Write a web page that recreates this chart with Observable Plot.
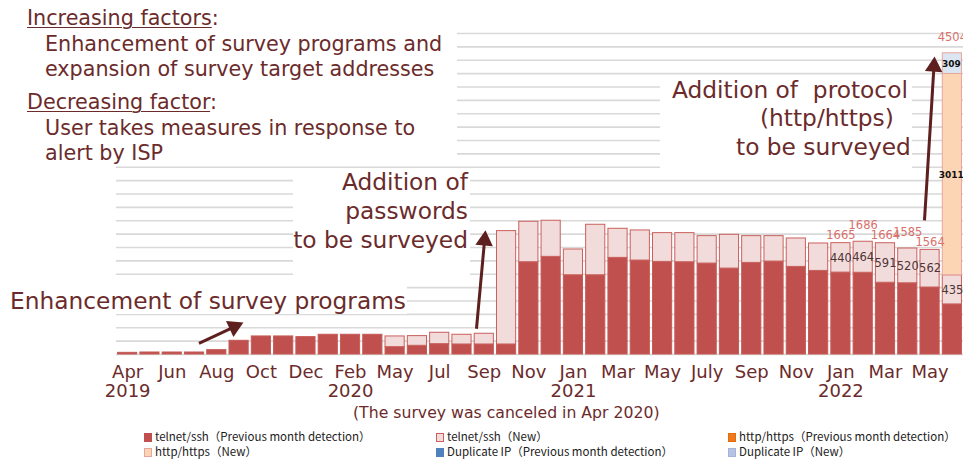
<!DOCTYPE html>
<html><head><meta charset="utf-8">
<script src="https://cdn.jsdelivr.net/npm/d3@7"></script>
<script src="https://cdn.jsdelivr.net/npm/@observablehq/plot@0.6"></script>
<style>
body{margin:0;background:#fff;}
#wrap{position:relative;width:963px;height:459px;overflow:hidden;font-family:"DejaVu Sans",sans-serif;color:#6b2b2b;}
#wrap svg{position:absolute;left:0;top:0;}
.ann{position:absolute;white-space:nowrap;line-height:1;}
.box{position:absolute;background:#fff;}
.u{text-decoration:underline;text-underline-offset:2px;text-decoration-thickness:1px;}
.leg{position:absolute;white-space:nowrap;font-family:"Noto Sans CJK JP",sans-serif;font-size:11.5px;color:#1a1a1a;line-height:1;}
.sw{display:inline-block;width:6px;height:7px;margin-right:3px;vertical-align:-1px;border:1px solid transparent;}
</style></head><body><div id="wrap"></div>
<script>
// ---------------- data ----------------
const categories = ["2019-04","2019-05","2019-06","2019-07","2019-08","2019-09","2019-10","2019-11","2019-12","2020-01","2020-02","2020-03",
  "2020-05","2020-06","2020-07","2020-08","2020-09","2020-10","2020-11","2020-12",
  "2021-01","2021-02","2021-03","2021-04","2021-05","2021-06","2021-07","2021-08","2021-09","2021-10","2021-11","2021-12",
  "2022-01","2022-02","2022-03","2022-04","2022-05","2022-06"];
const telnetPrev = [25,30,30,30,65,205,270,270,260,295,295,295,
  110,130,155,150,150,150,1380,1460,
  1185,1185,1445,1405,1385,1380,1360,1285,1370,1390,1310,1250,
  1225,1222,1073,1065,1002,749];
const telnetNew = [0,0,0,0,0,0,0,0,0,0,0,0,
  160,145,170,145,160,1695,605,540,
  385,755,435,450,430,435,410,505,400,380,425,410,
  440,464,591,520,562,435];
const httpPrev = new Array(38).fill(0);
const httpNew = [0,0,0,0,0,0,0,0,0,0,0,0, 0,0,0,0,0,0,0,0, 0,0,0,0,0,0,0,0,0,0,0,0, 0,0,0,0,0,3011];
const dupPrev = new Array(38).fill(0);
const dupNew = [0,0,0,0,0,0,0,0,0,0,0,0, 0,0,0,0,0,0,0,0, 0,0,0,0,0,0,0,0,0,0,0,0, 0,0,0,0,0,309];
const totalLabels = ["","","","","","","","","","","","", "","","","","","","","", "","","","","","","","","","","","", "1665","1686","1664","1585","1564","4504"];
const monthTicks = ["Apr","","Jun","","Aug","","Oct","","Dec","","Feb","","May","","Jul","","Sep","","Nov","","Jan","","Mar","","May","","July","","Sep","","Nov","","Jan","","Mar","","May",""];
const yearTicks = ["2019","","","","","","","","","","2020","","","","","","","","","","2021","","","","","","","","","","","","2022","","","","",""];
const gridValues = [0,200,400,600,800,1000,1200,1400,1600,1800,2000,2200,2400,2600,2800,3000,3200,3400,3600,3800,4000,4200,4400,4600,4800];
const seriesNames = ["telnet/ssh（Previous month detection）","telnet/ssh（New）","http/https（Previous month detection）","http/https（New）","Duplicate IP（Previous month detection）","Duplicate IP（New）"];
const seriesValues = [telnetPrev, telnetNew, httpPrev, httpNew, dupPrev, dupNew];
const seriesFill = ["#c0504d","#f2dcdb","#f07c22","#fcd5b5","#4f81bd","#dce6f2"];
const seriesStroke = ["#c55a57","#c9605d","#e46c0a","#e8a59c","#4f81bd","#e8a59c"];
const legendFill = ["#c0504d","#f2dcdb","#ef7a1e","#fcd5b5","#4f81bd","#b7c3e2"];
const legendStroke = ["#c0504d","#c9605d","#e46c0a","#e8a59c","#4f81bd","#a3b3da"];
// annotation arrows (data space: x = bar index, y = count)
const arrows = [
  {x1: 3.2, y1: 165, x2: 5.15, y2: 470},
  {x1: 15.65, y1: 385, x2: 16.05, y2: 1840},
  {x1: 35.75, y1: 2005, x2: 36.2, y2: 4440}
];

// ---------------- build ----------------
const ink = "#6b2b2b";
const arrowInk = "#5e1f1f";
const W = 963, H = 425, mL = 116, mR = 0, mT = 33, mB = 71;
const xs = d3.scaleLinear([-0.5, 37.5], [mL, W - mR]);
const ys = d3.scaleLinear([0, 4800], [H - mB, mT]);

const segs = [];
categories.forEach((c, i) => {
  let cum = 0;
  seriesValues.forEach((vals, s) => {
    const v = vals[i];
    if (v > 0) { segs.push({i, s, y1: cum, y2: cum + v, v}); cum += v; }
  });
});
const totals = categories.map((c, i) => ({i, total: seriesValues.reduce((a, vals) => a + vals[i], 0), label: totalLabels[i]})).filter(d => d.label);
const innerLabels = segs.filter(d => d.i >= 32 && d.s === 1).map(d => ({i: d.i, y: (d.y1 + d.y2) / 2, t: String(d.v)}));
const smallLabels = segs.filter(d => d.s === 3 || d.s === 5).map(d => ({i: d.i, y: (d.y1 + d.y2) / 2, t: String(d.v)}));
const ticks = categories.map((c, i) => ({i, m: monthTicks[i], yr: yearTicks[i]}));

const shafts = [], heads = [];
arrows.forEach(a => {
  const p0 = [xs(a.x1), ys(a.y1)], p1 = [xs(a.x2), ys(a.y2)];
  const dx = p1[0] - p0[0], dy = p1[1] - p0[1], L = Math.hypot(dx, dy);
  const u = [dx / L, dy / L];
  const back = 9;
  const c = [p1[0] - u[0] * back, p1[1] - u[1] * back];
  const ang = Math.atan2(dx, -dy) * 180 / Math.PI;
  shafts.push({x1: a.x1, y1: a.y1, x2: xs.invert(c[0]), y2: ys.invert(c[1])});
  heads.push({x: xs.invert(c[0]), y: ys.invert(c[1]), a: ang});
});

const chart = Plot.plot({
  width: W, height: H, marginLeft: mL, marginRight: mR, marginTop: mT, marginBottom: mB,
  x: {domain: [-0.5, 37.5], axis: null},
  y: {domain: [0, 4800], axis: null},
  color: {type: "identity"},
  style: {fontFamily: "DejaVu Sans, sans-serif", background: "white", overflow: "hidden"},
  marks: [
    Plot.ruleY(gridValues, {stroke: "#d9d9d9", strokeWidth: 1.6}),
    Plot.rect(segs, {x1: d => d.i - 0.43, x2: d => d.i + 0.43, y1: "y1", y2: "y2",
      fill: d => seriesFill[d.s], stroke: d => seriesStroke[d.s], strokeWidth: 1}),
    Plot.text(totals.filter(d => d.i % 2 === 0), {x: "i", y: "total", text: "label", dy: -8, fill: "#d8706b", fontSize: 11.5}),
    Plot.text(totals.filter(d => d.i % 2 === 1), {x: "i", y: "total", text: "label", dy: -16, fill: "#d8706b", fontSize: 11.5}),
    Plot.text(innerLabels, {x: "i", y: "y", text: "t", fill: "#4e3535", fontSize: 11.5}),
    Plot.text(smallLabels, {x: "i", y: "y", text: "t", fill: "#111", fontSize: 9, fontWeight: "bold", dx: -1}),
    Plot.text(ticks.filter(d => d.m), {x: "i", frameAnchor: "bottom", lineAnchor: "top", dy: 11, text: "m", fill: ink, fontSize: 18}),
    Plot.text(ticks.filter(d => d.yr), {x: "i", frameAnchor: "bottom", lineAnchor: "top", dy: 30, text: "yr", fill: ink, fontSize: 18}),
    Plot.link(shafts, {x1: "x1", y1: "y1", x2: "x2", y2: "y2", stroke: arrowInk, strokeWidth: 3}),
    Plot.dot(heads, {x: "x", y: "y", symbol: "triangle", r: 6.5, rotate: "a", fill: arrowInk, stroke: "none"})
  ]
});
const wrap = document.getElementById("wrap");
wrap.appendChild(chart);

// white boxes behind annotation text
function box(l, t, w, h) { const d = document.createElement("div"); d.className = "box"; Object.assign(d.style, {left: l + "px", top: t + "px", width: w + "px", height: h + "px"}); wrap.appendChild(d); }
box(0, 0, 457, 166);
box(293, 168, 177, 110);
box(0, 281, 407, 33);
box(660, 76, 252, 94);

function txt(html, x, baseline, size, anchor) {
  const d = document.createElement("div"); d.className = "ann"; d.innerHTML = html;
  d.style.fontSize = size + "px";
  d.style.top = (baseline - 0.846 * size) + "px";
  if (anchor === "end") d.style.right = (W - x) + "px"; else d.style.left = x + "px";
  wrap.appendChild(d); return d;
}
const s1 = 20.7;
txt('<span class="u">Increasing factors</span>:', 27, 26, s1);
txt("Enhancement of survey programs and", 45, 52, s1);
txt("expansion of survey target addresses", 45, 77, s1);
txt('<span class="u">Decreasing factor</span>:', 27, 110, s1);
txt("User takes measures in response to", 45, 136, s1);
txt("alert by ISP", 45, 161, s1);
const s2 = 23.3;
txt("Addition of", 468, 190, s2, "end");
txt("passwords", 468, 219, s2, "end");
txt("to be surveyed", 468, 248, s2, "end");
txt("Enhancement of survey programs", 10, 309, s2);
txt("Addition of&nbsp; protocol", 672, 98, s2);
txt("(http/https)", 760, 126, s2);
txt("to be surveyed", 736, 155, s2);
txt("(The survey was canceled in Apr 2020)", 353, 418, 15.7);

// legend
const legPos = [[144, 437], [436, 437], [728, 437], [144, 452], [436, 452], [728, 452]];
seriesNames.forEach((n, k) => {
  const d = document.createElement("div"); d.className = "leg";
  d.innerHTML = `<span class="sw" style="background:${legendFill[k]};border-color:${legendStroke[k]}"></span>${n}`;
  d.style.left = legPos[k][0] + "px"; d.style.top = (legPos[k][1] - 6) + "px";
  wrap.appendChild(d);
});
</script></body></html>
